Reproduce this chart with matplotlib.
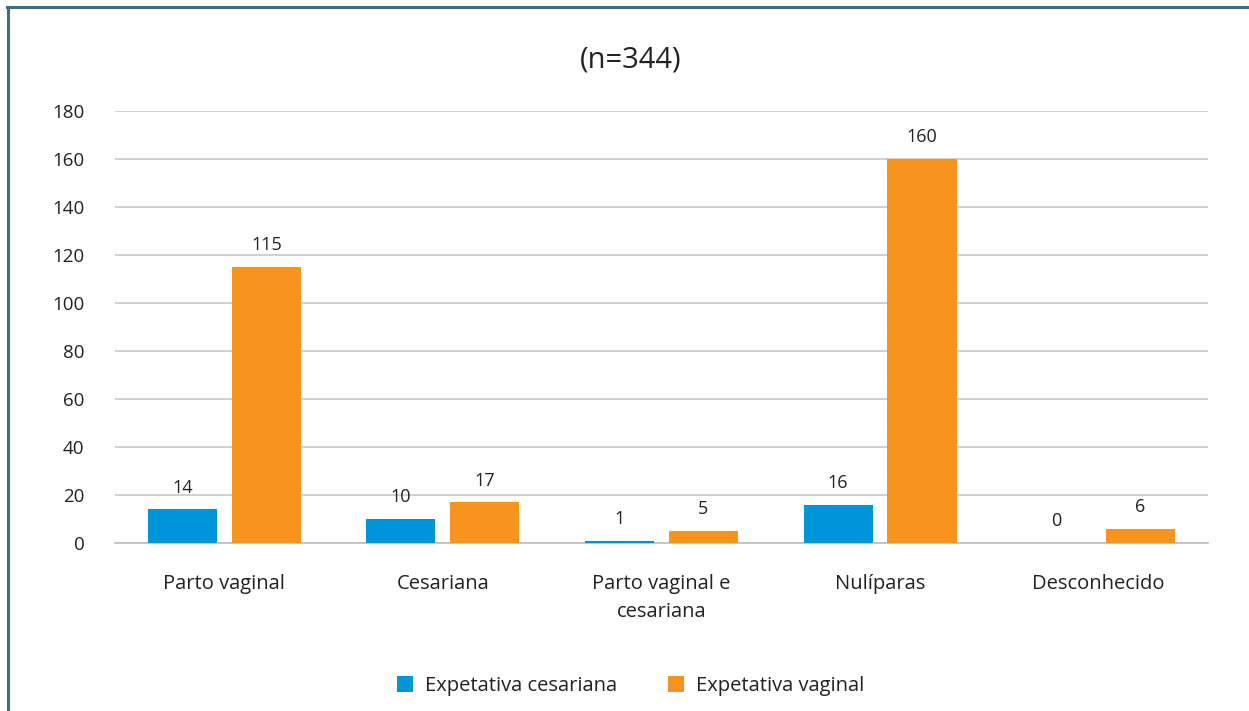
import matplotlib
matplotlib.use("Agg")
import matplotlib.pyplot as plt
import numpy as np
from matplotlib.lines import Line2D

categories = ["Parto vaginal", "Cesariana", "Parto vaginal e\ncesariana", "Nulíparas", "Desconhecido"]
exp_cesariana = [14, 10, 1, 16, 0]
exp_vaginal = [115, 17, 5, 160, 6]
series_names = ["Expetativa cesariana", "Expetativa vaginal"]
title = "(n=344)"
yticks = [0, 20, 40, 60, 80, 100, 120, 140, 160, 180]

plt.rcParams['font.family'] = ['Open Sans', 'DejaVu Sans']
fig = plt.figure(figsize=(12.49, 7.11), dpi=100)
ax = fig.add_axes([0.0921, 0.2363, 0.875, 0.6076])

x = np.arange(len(categories))
w = 0.316
off = 0.192
c_blue = "#0095D9"
c_orange = "#F7941D"
b1 = ax.bar(x - off, exp_cesariana, w, color=c_blue, label=series_names[0], zorder=3)
b2 = ax.bar(x + off, exp_vaginal, w, color=c_orange, label=series_names[1], zorder=3)
for bars, vals in ((b1, exp_cesariana), (b2, exp_vaginal)):
    for r, v in zip(bars, vals):
        ax.annotate(str(v), (r.get_x() + r.get_width() / 2, v), xytext=(0, 9),
                    textcoords="offset points", ha="center", va="bottom",
                    fontsize=13, color="#222222")

ax.set_xlim(-0.5, len(categories) - 0.5)
ax.set_ylim(0, 180)
ax.set_yticks(yticks)
ax.set_xticks(x)
ax.set_xticklabels(categories, fontsize=14.5, color="#222222", linespacing=1.55)
ax.tick_params(axis='y', labelsize=13.5, colors="#222222", length=0, pad=22)
ax.tick_params(axis='x', length=0, pad=22)
ax.yaxis.grid(True, color="#c8c8c8", linewidth=1.2, zorder=0)
for s in ["top", "right", "left"]:
    ax.spines[s].set_visible(False)
ax.spines["bottom"].set_color("#bdbdbd")
ax.spines["bottom"].set_linewidth(1.2)

fig.text(0.505, 0.915, title, ha="center", va="center", fontsize=21, color="#222222")

leg = fig.legend(handles=[b1, b2], loc="center", bbox_to_anchor=(0.505, 0.035), ncol=2,
                 frameon=False, fontsize=14.5, handlelength=0.8, handleheight=0.8,
                 columnspacing=2.5, handletextpad=0.6)
for t in leg.get_texts():
    t.set_color("#222222")

# frame lines (left and top)
fig.add_artist(Line2D([0.0065, 0.0065], [0, 0.9895], color="#3a7085", linewidth=2.2, transform=fig.transFigure))
fig.add_artist(Line2D([0.0055, 1.0], [0.9895, 0.9895], color="#3a7085", linewidth=2.2, transform=fig.transFigure))

fig.savefig("out.png", dpi=100)
